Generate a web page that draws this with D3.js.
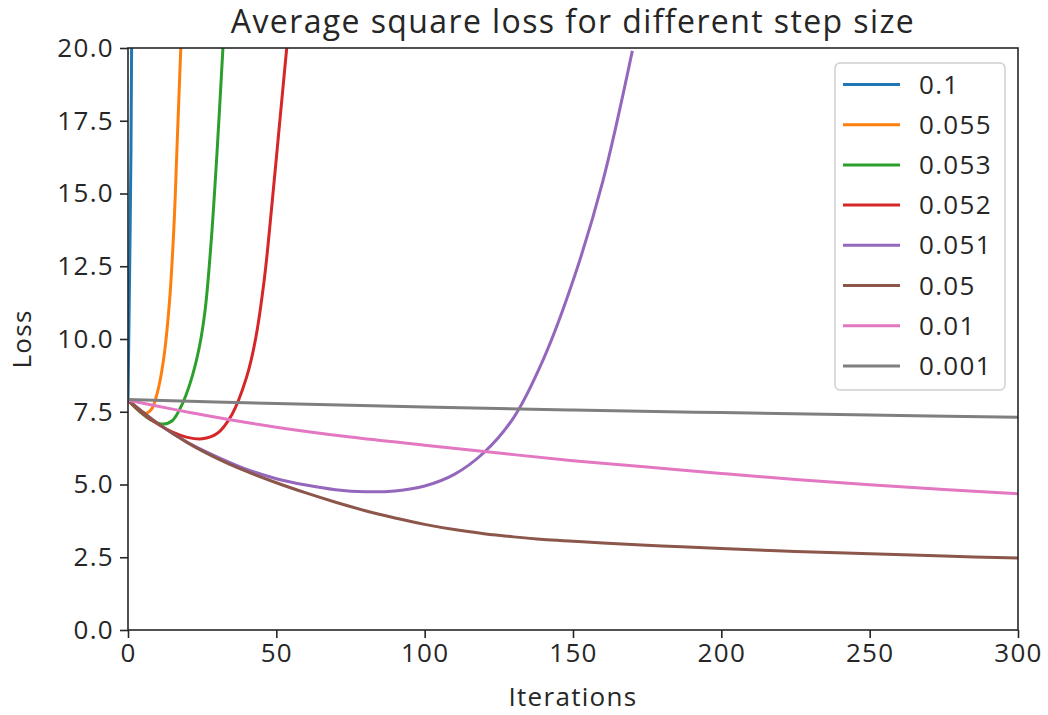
<!DOCTYPE html>
<html>
<head>
<meta charset="utf-8">
<script src="https://cdn.jsdelivr.net/npm/d3@7"></script>
<style>
  body { margin: 0; background: #fff; }
  text { font-family: "Open Sans", sans-serif; fill: #262626; letter-spacing: 1.3px; }
</style>
</head>
<body>
<svg id="chart"></svg>
<script>
// step sizes (legend labels)
let stepSizes = ['0.1', '0.055', '0.053', '0.052', '0.051', '0.05', '0.01', '0.001'];
let colors = ['#1f77b4', '#ff7f0e', '#2ca02c', '#d62728', '#9467bd', '#8c564b', '#e377c2', '#7f7f7f'];

// values, per step size
let iter01 = [0, 1, 2];
let loss01 = [7.9, 16.5, 35];

let iter055 = [0, 3, 6, 8, 10, 12, 14, 15.5, 16.6, 17.8];
let loss055 = [7.9, 7.6, 7.45, 7.6, 8.2, 9.3, 11.3, 13.9, 16.8, 20];

let iter053 = [0, 4, 8, 12, 15, 18, 21, 24, 26, 28, 30, 32];
let loss053 = [7.9, 7.5, 7.2, 7.08, 7.2, 7.7, 8.5, 9.7, 11.0, 13.3, 16.4, 20];

let iter052 = [0, 5, 10, 15, 20, 25, 30, 35, 40, 43, 46, 48.5, 51, 53.5];
let loss052 = [7.9, 7.45, 7.08, 6.8, 6.62, 6.57, 6.75, 7.4, 8.7, 10, 12.1, 14.6, 17.3, 20];

let iter051 = [0, 10, 20, 30, 40, 50, 60, 70, 80, 90, 100, 110, 120, 130, 140, 150, 160, 170];
let loss051 = [7.9, 7.1, 6.45, 5.95, 5.52, 5.2, 4.98, 4.82, 4.75, 4.78, 4.95, 5.35, 6.1, 7.3, 9.3, 12.0, 15.4, 19.9];

let iter05 = [0, 10, 20, 30, 40, 50, 60, 70, 80, 90, 100, 110, 120, 130, 140, 150, 160, 180, 200, 225, 250, 275, 300];
let loss05 = [7.9, 7.1, 6.44, 5.9, 5.45, 5.06, 4.71, 4.39, 4.1, 3.85, 3.63, 3.45, 3.31, 3.2, 3.11, 3.05, 2.99, 2.89, 2.8, 2.7, 2.62, 2.54, 2.47];

let iter001 = [0, 25, 50, 75, 100, 125, 150, 175, 200, 225, 250, 275, 300];
let loss001 = [7.9, 7.4, 6.97, 6.63, 6.35, 6.08, 5.82, 5.6, 5.38, 5.17, 4.99, 4.83, 4.68];

let iter0001 = [0, 50, 100, 150, 200, 250, 300];
let loss0001 = [7.92, 7.78, 7.66, 7.56, 7.47, 7.39, 7.31];

let xTicks = [0, 50, 100, 150, 200, 250, 300];
let yTicks = [0, 2.5, 5, 7.5, 10, 12.5, 15, 17.5, 20];

let series = [
  [iter01, loss01], [iter055, loss055], [iter053, loss053], [iter052, loss052],
  [iter051, loss051], [iter05, loss05], [iter001, loss001], [iter0001, loss0001]
].map((s, i) => ({
  name: stepSizes[i],
  color: colors[i],
  values: s[0].map((t, j) => ({ t: t, v: s[1][j] }))
}));

let w = 1048;
let h = 715;
let marginT = 48;
let marginL = 128;
let marginR = 30;
let marginB = 85;

let chart = d3.select('#chart')
  .attr('width', w)
  .attr('height', h);

let xScale = d3.scaleLinear()
  .domain([0, 300])
  .range([marginL, w - marginR]);

let yScale = d3.scaleLinear()
  .domain([0, 20])
  .range([h - marginB, marginT]);

chart.append('clipPath')
  .attr('id', 'plotclip')
  .append('rect')
  .attr('x', marginL)
  .attr('y', marginT)
  .attr('width', w - marginR - marginL)
  .attr('height', h - marginB - marginT);

let line = d3.line()
  .x(d => xScale(d.t))
  .y(d => yScale(d.v))
  .curve(d3.curveCatmullRom.alpha(0.5));

chart.append('g')
  .attr('clip-path', 'url(#plotclip)')
  .selectAll('path')
  .data(series)
  .enter()
  .append('path')
  .attr('d', d => line(d.values))
  .attr('fill', 'none')
  .attr('stroke', d => d.color)
  .attr('stroke-width', 3);

//AXES
let xAxis = d3.axisBottom(xScale).tickValues(xTicks).tickFormat(d3.format('d')).tickSize(8).tickPadding(6);
let yAxis = d3.axisLeft(yScale).tickValues(yTicks).tickFormat(d3.format('.1f')).tickSize(8).tickPadding(6);

let gx = chart.append('g')
  .attr('transform', `translate(0, ${h - marginB})`)
  .call(xAxis);

let gy = chart.append('g')
  .attr('transform', `translate(${marginL}, 0)`)
  .call(yAxis);

[gx, gy].forEach(g => {
  g.select('.domain').remove();
  g.selectAll('line').attr('stroke', '#262626').attr('stroke-width', 1.6);
  g.selectAll('text').style('font-size', '26px').style('font-family', '"Open Sans", sans-serif').attr('fill', '#262626');
});

// frame
chart.append('rect')
  .attr('x', marginL)
  .attr('y', marginT)
  .attr('width', w - marginR - marginL)
  .attr('height', h - marginB - marginT)
  .attr('fill', 'none')
  .attr('stroke', '#262626')
  .attr('stroke-width', 1.6);

//LABELS
chart.append('text')
  .attr('x', (marginL + w - marginR) / 2)
  .attr('y', 33)
  .style('text-anchor', 'middle')
  .style('font-size', '32px')
  .style('letter-spacing', '1.4px')
  .text('Average square loss for different step size');

chart.append('text')
  .attr('x', (marginL + w - marginR) / 2)
  .attr('y', 706)
  .style('text-anchor', 'middle')
  .style('font-size', '26px')
  .text('Iterations');

chart.append('text')
  .attr('transform', 'rotate(-90)')
  .attr('x', -(marginT + h - marginB) / 2)
  .attr('y', 31)
  .style('text-anchor', 'middle')
  .style('font-size', '26px')
  .text('Loss');

//LEGEND
let legend = chart.append('g');
legend.append('rect')
  .attr('x', 835)
  .attr('y', 63)
  .attr('width', 170)
  .attr('height', 327)
  .attr('rx', 5)
  .attr('fill', 'white')
  .attr('fill-opacity', 0.8)
  .attr('stroke', '#d0d0d0')
  .attr('stroke-width', 1.5);

let items = legend.selectAll('g.item')
  .data(series)
  .enter()
  .append('g')
  .attr('class', 'item')
  .attr('transform', (d, i) => `translate(0, ${84.5 + i * 40.2})`);

items.append('line')
  .attr('x1', 843)
  .attr('x2', 900)
  .attr('stroke', d => d.color)
  .attr('stroke-width', 3);

items.append('text')
  .attr('x', 919)
  .attr('dy', '0.35em')
  .style('font-size', '26px')
  .text(d => d.name);
</script>
</body>
</html>
